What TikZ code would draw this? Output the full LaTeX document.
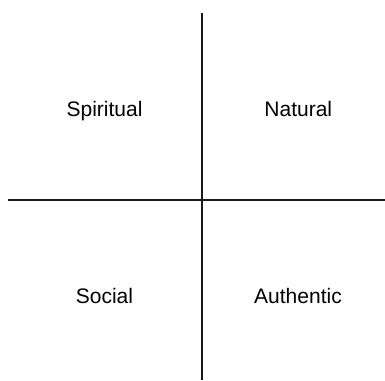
\documentclass[tikz,border=0pt]{standalone}
\usepackage{fontspec}
\setmainfont{Liberation Sans}
\begin{document}
\begin{tikzpicture}[x=1pt,y=-1pt,
  axis/.style={line width=1.8pt,draw=black!90},
  lbl/.style={font=\fontsize{21}{25}\selectfont,anchor=base,inner sep=0pt}]
\useasboundingbox (0,0) rectangle (385,380);
\coordinate (top) at (202,12.5);
\coordinate (bot) at (202,380);
\coordinate (lft) at (8,200);
\coordinate (rgt) at (385,200);
\draw[axis] (top) -- (bot);
\draw[axis] (lft) -- (rgt);
\node[lbl] (sp) at (104.5,116) {Spiritual};
\node[lbl] (na) at (298.3,116) {Natural};
\node[lbl] (so) at (104.5,303.5) {Social};
\node[lbl] (au) at (298,303.5) {Authentic};
\end{tikzpicture}
\end{document}
